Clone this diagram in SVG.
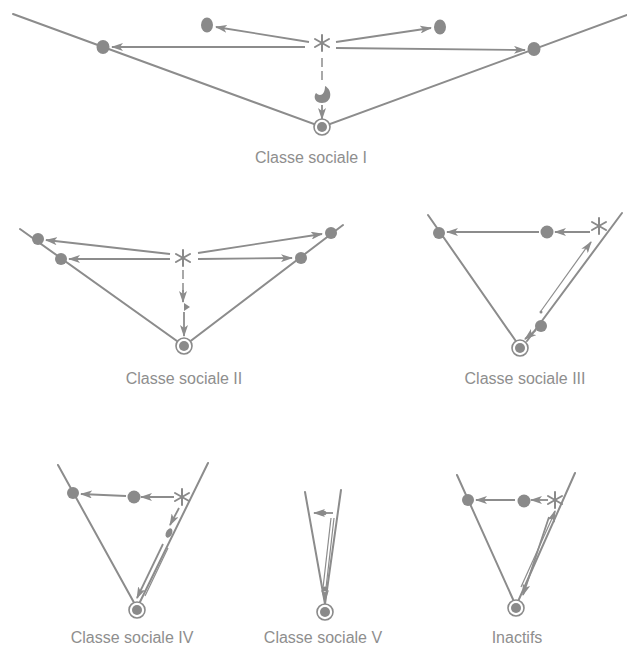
<svg xmlns="http://www.w3.org/2000/svg" width="627" height="650" viewBox="0 0 627 650">
  <style>
    .edge { stroke: #8c8c8c; stroke-width: 2; fill: none; stroke-linecap: round; }
    .arr { stroke: #8c8c8c; stroke-width: 1.8; fill: none; marker-end: url(#ah); }
    .thin { stroke: #8c8c8c; stroke-width: 1.2; fill: none; }
    .dash { stroke: #8c8c8c; stroke-width: 1.5; fill: none; stroke-dasharray: 9 4; }
    .n { fill: #8a8a8a; }
    .ring { fill: #ffffff; stroke: #8a8a8a; stroke-width: 1.6; }
    .star { stroke: #8a8a8a; stroke-width: 2; fill: none; stroke-linecap: round; }
    .lbl { font-family: "Liberation Sans", Arial, sans-serif; font-size: 16px; fill: #8e8e8e; text-anchor: middle; }
  </style>
  <defs>
    <marker id="ah" viewBox="0 0 12 8" refX="11" refY="4" markerWidth="12" markerHeight="8" markerUnits="userSpaceOnUse" orient="auto">
      <path d="M0,0 L12,4 L0,8 L3,4 Z" fill="#8c8c8c"/>
    </marker>
    <g id="asterisk">
      <line class="star" x1="0" y1="-8" x2="0" y2="8"/>
      <line class="star" x1="-7" y1="-4" x2="7" y2="4"/>
      <line class="star" x1="-7" y1="4" x2="7" y2="-4"/>
    </g>
    <g id="target">
      <circle class="ring" r="8"/>
      <circle class="n" r="5"/>
    </g>
  </defs>

  <!-- Classe sociale I -->
  <g id="panel-1">
    <g id="c1-edges">
      <path class="edge" d="M13,14 L322,127 L627,15"/>
      <path class="arr" d="M309,42 L216,27"/>
      <path class="arr" d="M305,47 L112,47"/>
      <path class="arr" d="M336,42 L431,28"/>
      <path class="arr" d="M336,48 L525,50"/>
      <path class="dash" d="M322,58 L322,84"/>
      <path class="arr" d="M322,105 L322,119"/>
    </g>
    <g id="c1-nodes">
      <ellipse class="n" cx="103" cy="47" rx="6.5" ry="7"/>
      <ellipse class="n" cx="207" cy="25" rx="6" ry="7.5"/>
      <ellipse class="n" cx="440" cy="27" rx="6" ry="7.5"/>
      <ellipse class="n" cx="534" cy="49" rx="6.5" ry="7"/>
      <use href="#asterisk" x="322" y="43"/>
      <path class="n" d="M325,86 C333,90 332,103 322,103 C315,103 313,97 316,93 C320,97 325,95 325,86 Z"/>
      <use href="#target" x="322" y="127"/>
    </g>
    <text class="lbl" x="311" y="163">Classe sociale I</text>
  </g>

  <!-- Classe sociale II -->
  <g id="panel-2">
    <g id="c2-edges">
      <path class="edge" d="M20,229 L184,346 L343,225"/>
      <path class="arr" d="M170,254 L46,240"/>
      <path class="arr" d="M170,259 L69,259"/>
      <path class="arr" d="M198,253 L322,234"/>
      <path class="arr" d="M198,259 L292,258"/>
      <path class="dash" d="M183,270 L183,292"/>
      <path class="arr" d="M183,290 L183,302"/>
      <path class="arr" d="M184,312 L184,336"/>
    </g>
    <g id="c2-nodes">
      <circle class="n" cx="38" cy="239" r="6"/>
      <circle class="n" cx="61" cy="259" r="6"/>
      <circle class="n" cx="331" cy="233" r="6"/>
      <circle class="n" cx="301" cy="258" r="6"/>
      <use href="#asterisk" x="183" y="258"/>
      <path class="n" d="M184,303 L190,307 L184,311 Z"/>
      <use href="#target" x="184" y="346"/>
    </g>
    <text class="lbl" x="184" y="384">Classe sociale II</text>
  </g>

  <!-- Classe sociale III -->
  <g id="panel-3">
    <g id="c3-edges">
      <path class="edge" d="M428,215 L520,347"/>
      <path class="edge" d="M622,213 L527,341"/>
      <path class="arr" d="M590,232 L555,232"/>
      <path class="arr" d="M539,232 L447,232"/>
      <path class="thin" d="M589,244 L541,311"/>
      <path class="arr" d="M586,249 L591,242"/>
      <path class="arr" d="M536,330 L525,339"/>
    </g>
    <g id="c3-nodes">
      <circle class="n" cx="439" cy="233" r="6"/>
      <circle class="n" cx="547" cy="232" r="6.5"/>
      <use href="#asterisk" x="599" y="226"/>
      <circle class="n" cx="541" cy="312" r="1.5"/>
      <circle class="n" cx="541" cy="326" r="6"/>
      <use href="#target" x="520" y="348"/>
    </g>
    <text class="lbl" x="525" y="384">Classe sociale III</text>
  </g>

  <!-- Classe sociale IV -->
  <g id="panel-4">
    <g id="c4-edges">
      <path class="edge" d="M58,465 L137,608 L208,463"/>
      <path class="arr" d="M174,497 L141,497"/>
      <path class="arr" d="M126,496 L81,494"/>
      <path class="arr" d="M179,508 L170,525"/>
      <path class="arr" d="M163,544 L137,598"/>
      <path class="thin" d="M168,548 L145,596"/>
    </g>
    <g id="c4-nodes">
      <circle class="n" cx="73" cy="493" r="6"/>
      <circle class="n" cx="134" cy="497" r="6.5"/>
      <use href="#asterisk" x="182" y="497"/>
      <ellipse class="n" cx="169" cy="533" rx="3" ry="5" transform="rotate(25 169 533)"/>
      <use href="#target" x="137" y="610"/>
    </g>
    <text class="lbl" x="132" y="643">Classe sociale IV</text>
  </g>

  <!-- Classe sociale V -->
  <g id="panel-5">
    <g id="c5-edges">
      <path class="edge" d="M305,492 L325,604 L341,490"/>
      <path class="arr" d="M333,513 L314,513"/>
      <path class="thin" d="M334,518 L326,588"/>
      <path class="thin" d="M331,518 L323,588"/>
      <path class="arr" d="M325,592 L325,601"/>
    </g>
    <g id="c5-nodes">
      <ellipse class="n" cx="323" cy="513" rx="3.5" ry="2.5"/>
      <circle class="n" cx="325" cy="589" r="2.5"/>
      <use href="#target" x="325" y="612"/>
    </g>
    <text class="lbl" x="323" y="643">Classe sociale V</text>
  </g>

  <!-- Inactifs -->
  <g id="panel-6">
    <g id="c6-edges">
      <path class="edge" d="M457,475 L516,606 L575,473"/>
      <path class="arr" d="M548,500 L531,500"/>
      <path class="arr" d="M515,500 L476,500"/>
      <path class="thin" d="M554,514 L521,587"/>
      <path class="arr" d="M549,517 L523,595"/>
      <path class="arr" d="M552,519 L555,511"/>
    </g>
    <g id="c6-nodes">
      <circle class="n" cx="468" cy="500" r="6"/>
      <circle class="n" cx="524" cy="501" r="6.5"/>
      <use href="#asterisk" x="555" y="500"/>
      <use href="#target" x="516" y="608"/>
    </g>
    <text class="lbl" x="517" y="643">Inactifs</text>
  </g>
</svg>
